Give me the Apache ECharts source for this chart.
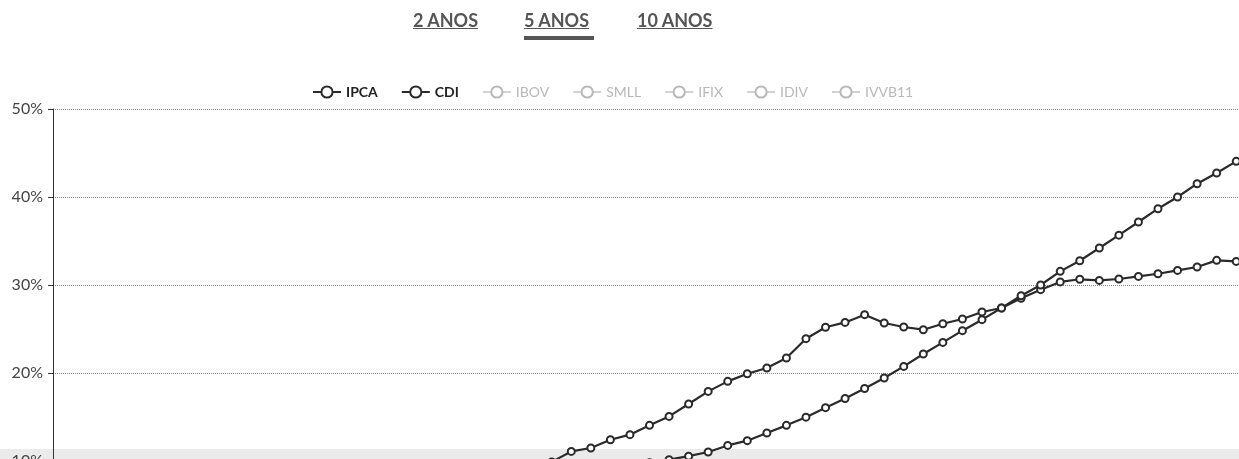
<!DOCTYPE html>
<html>
<head>
<meta charset="utf-8">
<script src="https://cdn.jsdelivr.net/npm/echarts@6/dist/echarts.min.js"></script>
<style>
  body { margin: 0; background: #fff; }
  .wrap { position: relative; width: 1239px; height: 459px; overflow: hidden; }
  .tab {
    position: absolute; top: 9px; font-family: Lato, sans-serif; font-size: 18px;
    font-weight: bold; color: #555; text-decoration: underline;
  }
  .bar { position: absolute; left: 524px; top: 36px; width: 70px; height: 4px; background: #555; }
  #chart { position: absolute; left: 0; top: 0; width: 1250px; height: 560px; }
</style>
</head>
<body>
<div class="wrap">
  <div id="chart"></div>
  <span class="tab" style="left: 413px">2 ANOS</span>
  <span class="tab" style="left: 524px">5 ANOS</span>
  <span class="tab" style="left: 637px">10 ANOS</span>
  <div class="bar"></div>
</div>
<script>
// meses do periodo de 5 anos
const months = [
  "jan/19", "fev/19", "mar/19", "abr/19", "mai/19", "jun/19", "jul/19", "ago/19", "set/19", "out/19", "nov/19", "dez/19",
  "jan/20", "fev/20", "mar/20", "abr/20", "mai/20", "jun/20", "jul/20", "ago/20", "set/20", "out/20", "nov/20", "dez/20",
  "jan/21", "fev/21", "mar/21", "abr/21", "mai/21", "jun/21", "jul/21", "ago/21", "set/21", "out/21", "nov/21", "dez/21",
  "jan/22", "fev/22", "mar/22", "abr/22", "mai/22", "jun/22", "jul/22", "ago/22", "set/22", "out/22", "nov/22", "dez/22",
  "jan/23", "fev/23", "mar/23", "abr/23", "mai/23", "jun/23", "jul/23", "ago/23", "set/23", "out/23", "nov/23", "dez/23",
  "jan/24"
];

const ipca = [
  0.32, 0.75, 1.5, 2.1, 2.2, 2.2, 2.4, 2.5, 2.5, 2.6, 3.1, 4.3,
  4.5, 4.8, 4.9, 4.6, 4.2, 4.5, 4.9, 5.2, 5.9, 6.8, 7.8, 9.0,
  9.4, 9.9, 11.09, 11.48, 12.42, 12.99, 14.05, 15.07, 16.48, 17.91, 19.05, 19.92,
  20.57, 21.7, 23.9, 25.2, 25.75, 26.63, 25.68, 25.23, 24.92, 25.6, 26.14, 26.93,
  27.39, 28.5, 29.47, 30.35, 30.65, 30.52, 30.68, 30.98, 31.28, 31.66, 32.05, 32.8,
  32.68
];

const cdi = [
  0.5, 1.0, 1.5, 2.0, 2.5, 3.0, 3.5, 4.0, 4.45, 4.9, 5.3, 5.7,
  6.05, 6.35, 6.65, 6.95, 7.2, 7.4, 7.6, 7.75, 7.9, 8.05, 8.2, 8.35,
  8.5, 8.65, 8.8, 9.0, 9.25, 9.5, 9.8, 10.15, 10.55, 11.02, 11.77, 12.31,
  13.18, 14.05, 14.98, 16.06, 17.1, 18.24, 19.43, 20.75, 22.16, 23.48, 24.81, 26.06,
  27.39, 28.78, 30.0, 31.55, 32.76, 34.2, 35.66, 37.16, 38.67, 40.0, 41.51, 42.73,
  44.05
];

const indices = ["IPCA", "CDI", "IBOV", "SMLL", "IFIX", "IDIV", "IVVB11"];
const ativos = ["IPCA", "CDI"];

const chart = echarts.init(document.getElementById("chart"));

const lineSerie = (name, data) => ({
  name: name,
  type: "line",
  data: data,
  symbol: "emptyCircle",
  symbolSize: 7,
  showSymbol: true,
  color: "#2a2a2a",
  lineStyle: { width: 2.2, color: "#2a2a2a" },
  itemStyle: { color: "#2a2a2a", borderWidth: 1.3 },
});

const selected = {};
indices.forEach((n) => { selected[n] = ativos.indexOf(n) >= 0; });

const option = {
  animation: false,
  textStyle: { fontFamily: "Lato, sans-serif" },
  legend: {
    left: 307,
    top: 80,
    itemGap: 23,
    itemWidth: 28,
    itemHeight: 14,
    inactiveColor: "#b8b8b8",
    selected: selected,
    data: indices.map((n) => ({
      name: n,
      textStyle: ativos.indexOf(n) >= 0
        ? { fontWeight: "bold", color: "#222", fontSize: 14 }
        : { fontSize: 14 },
    })),
  },
  grid: { left: 53, top: 109, right: 4, bottom: 11 },
  xAxis: {
    type: "category",
    data: months,
    boundaryGap: true,
    axisLine: { show: false },
    axisTick: { show: false },
    axisLabel: { show: false },
  },
  yAxis: {
    type: "value",
    min: 0,
    max: 50,
    interval: 10,
    axisLine: { show: true, lineStyle: { color: "#333", width: 1 } },
    axisTick: { show: true, length: 5, lineStyle: { color: "#333" } },
    axisLabel: { formatter: "{value}%", color: "#444", fontSize: 16, margin: 10 },
    splitLine: { lineStyle: { type: "dotted", color: "#888", width: 1 } },
  },
  graphic: [
    {
      type: "rect",
      z: -1,
      shape: { x: 0, y: 449, width: 1250, height: 10 },
      style: { fill: "#ebebeb" },
    },
  ],
  series: [
    lineSerie("IPCA", ipca),
    lineSerie("CDI", cdi),
    lineSerie("IBOV", []),
    lineSerie("SMLL", []),
    lineSerie("IFIX", []),
    lineSerie("IDIV", []),
    lineSerie("IVVB11", []),
  ],
};

chart.setOption(option);
</script>
</body>
</html>
